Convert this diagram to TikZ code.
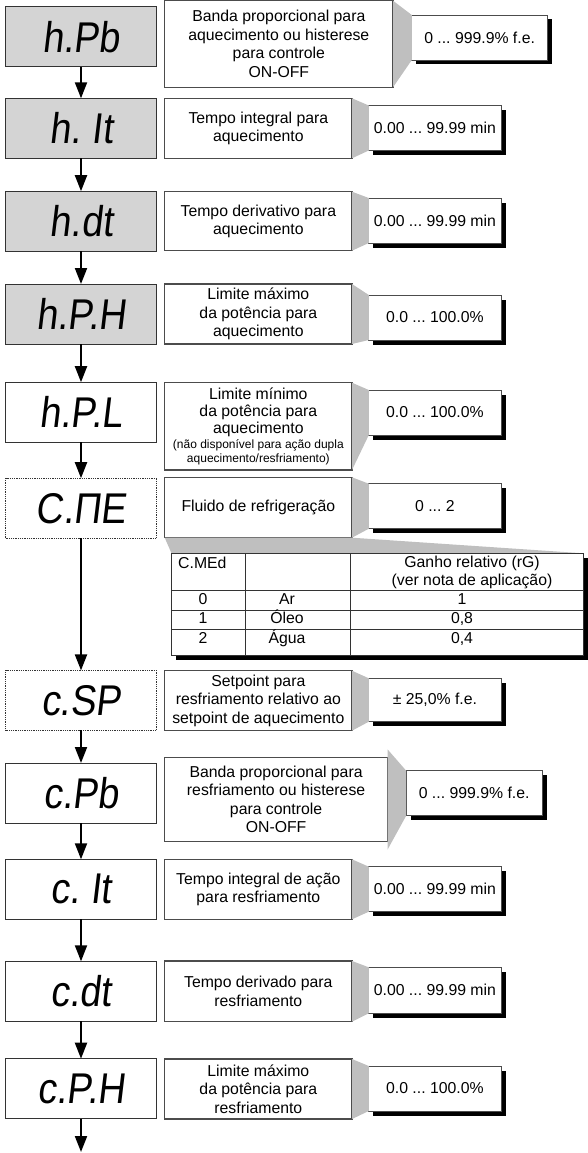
\documentclass[tikz,border=0pt]{standalone}
\usepackage{fontspec}
\setmainfont{Liberation Sans}
\newfontfamily\segfont[FakeStretch=0.88,FakeSlant=0.12]{Liberation Sans}
\usetikzlibrary{arrows.meta,shadows}
\newcommand{\smalltxt}{\fontsize{12}{11.8}\selectfont}
\frenchspacing
\begin{document}
\begin{tikzpicture}[x=1pt,y=-1pt,
 disp/.style={draw=black!80,line width=1pt,fill=black!17,minimum width=151pt,minimum height=60pt,inner sep=0pt,outer sep=0pt,font=\segfont\fontsize{43}{43}\selectfont},
 dispw/.style={disp,fill=white},
 dispd/.style={disp,fill=white,line width=0.8pt,dash pattern=on 1pt off 0.8pt},
 desc/.style={draw=black!70,line width=1.1pt,fill=white,minimum width=187.3pt,inner sep=0pt,outer sep=0pt,align=center,font=\fontsize{15.8}{18.5}\selectfont},
 val/.style={draw=black!70,line width=0.8pt,fill=white,minimum width=132.2pt,minimum height=45pt,inner sep=0pt,outer sep=0pt,font=\fontsize{15.8}{18.5}\selectfont,drop shadow={shadow xshift=4.5pt,shadow yshift=-4.5pt,fill=black,opacity=1}},
 wedge/.style={fill=black!25,draw=none},
 arr/.style={line width=2pt,-{Triangle[length=16pt,width=12pt]}},
 cell/.style={inner sep=0pt,font=\fontsize{15.8}{18.3}\selectfont,align=center,text height=11.5pt,text depth=3.5pt},
 tline/.style={draw=black!80,line width=0.9pt}
]
\useasboundingbox (0,0) rectangle (587,1153);

% ---------- display boxes ----------
\node[disp]  (d1)  at (81,37)     {h.Pb};
\node[disp]  (d2)  at (81,128.3)  {h. It};
\node[disp]  (d3)  at (81,221.2)  {h.dt};
\node[disp]  (d4)  at (81,314)    {h.P.H};
\node[dispw] (d5)  at (81,412.2)  {h.P.L};
\node[dispd] (d6)  at (81,508.2)  {C.ΠE};
\node[dispd] (d7)  at (81,700.4)  {c.SP};
\node[dispw] (d8)  at (81,793)    {c.Pb};
\node[dispw] (d9)  at (81,889.3)  {c. It};
\node[dispw] (d10) at (81,991.3)  {c.dt};
\node[dispw] (d11) at (81,1088.7) {c.P.H};
\coordinate (dend) at (81,1152);

% ---------- description boxes ----------
\node[desc,minimum width=228.3pt,minimum height=86.6pt] (t1) at (278.85,44) {Banda proporcional para\\aquecimento ou histerese\\para controle\\ON-OFF};
\node[desc,minimum height=60pt] (t2) at (258.35,128.3) {Tempo integral para\\aquecimento};
\node[desc,minimum height=59pt] (t3) at (258.35,221.2) {Tempo derivativo para\\aquecimento};
\node[desc,minimum height=60pt] (t4) at (258.35,314) {Limite máximo\\da potência para\\aquecimento};
\node[desc,minimum height=87.3pt,font=\fontsize{15.8}{17}\selectfont] (t5) at (258.35,426.35) {Limite mínimo\\da potência para\\aquecimento\\[-2pt]\smalltxt (não disponível para ação dupla\\[-3pt]\smalltxt aquecimento/resfriamento)};
\node[desc,minimum height=60.4pt] (t6) at (258.35,507.5) {Fluido de refrigeração};
\node[desc,minimum height=60pt] (t7) at (258.35,700.7) {Setpoint para\\resfriamento relativo ao\\setpoint de aquecimento};
\node[desc,minimum width=222.8pt,minimum height=84.4pt] (t8) at (276.1,799.5) {Banda proporcional para\\resfriamento ou histerese\\para controle\\ON-OFF};
\node[desc,minimum height=60pt] (t9) at (258.35,889.3) {Tempo integral de ação\\para resfriamento};
\node[desc,minimum height=60.7pt] (t10) at (258.35,991.3) {Tempo derivado para\\resfriamento};
\node[desc,minimum height=60pt] (t11) at (258.35,1089) {Limite máximo\\da potência para\\resfriamento};

% ---------- value boxes ----------
\node[val,minimum width=135.6pt] (v1) at (479.6,37.5) {0 ... 999.9\% f.e.};
\node[val] (v2) at (434.9,128) {0.00 ... 99.99 min};
\node[val] (v3) at (434.9,220.5) {0.00 ... 99.99 min};
\node[val] (v4) at (434.9,317.5) {0.0 ... 100.0\%};
\node[val] (v5) at (434.9,412.5) {0.0 ... 100.0\%};
\node[val] (v6) at (434.9,506.2) {0 ... 2};
\node[val,minimum height=43.4pt] (v7) at (434.9,700) {± 25,0\% f.e.};
\node[val,minimum width=135.9pt] (v8) at (474.15,793.2) {0 ... 999.9\% f.e.};
\node[val] (v9) at (434.9,889.2) {0.00 ... 99.99 min};
\node[val,minimum height=46pt] (v10) at (434.9,990.3) {0.00 ... 99.99 min};
\node[val] (v11) at (434.9,1088.5) {0.0 ... 100.0\%};

% ---------- gray wedges ----------
\foreach \i in {1,2,3,4,5,6,7,9,10,11}{
  \fill[wedge] (t\i.north east) -- (v\i.north west) -- (v\i.south west) -- (t\i.south east) -- cycle;
}
\fill[wedge] ([yshift=8pt]t8.north east) -- (v8.north west) -- (v8.south west) -- ([yshift=-8pt]t8.south east) -- cycle;

% ---------- table ----------
\node[draw=black!80,line width=0.9pt,fill=white,minimum width=411.8pt,minimum height=101.7pt,inner sep=0pt,outer sep=0pt,drop shadow={shadow xshift=4.5pt,shadow yshift=-4.5pt,fill=black,opacity=1}] (tab) at (377.4,604.15) {};
\fill[wedge] (t6.south west) -- (t6.south east) -- (tab.north east) -- (tab.north west) -- cycle;
\draw[tline] (tab.north west) rectangle (tab.south east);
\draw[tline] (245.2,553.3) -- (245.2,655);
\draw[tline] (350,553.3) -- (350,655);
\draw[tline] (171.5,590.7) -- (583.3,590.7);
\draw[tline] (171.5,610) -- (583.3,610);
\draw[tline] (171.5,629) -- (583.3,629);
\node[cell,anchor=west] (c0) at (178,564) {C.MEd};
\node[inner sep=0pt,font=\fontsize{15.8}{18.3}\selectfont,align=center] (c1) at (472,572.5) {Ganho relativo (rG)\\(ver nota de aplicação)};
\node[cell] (r1a) at (203,600.5) {0};
\node[cell] (r1b) at (287,600.5) {Ar};
\node[cell] (r1c) at (462,600.5) {1};
\node[cell] (r2a) at (203,619.5) {1};
\node[cell] (r2b) at (287,619.5) {Óleo};
\node[cell] (r2c) at (462,619.5) {0,8};
\node[cell] (r3a) at (203,639) {2};
\node[cell] (r3b) at (287,639) {Água};
\node[cell] (r3c) at (462,639) {0,4};

% ---------- arrows ----------
\draw[arr] (d1) -- (d2);
\draw[arr] (d2) -- (d3);
\draw[arr] (d3) -- (d4);
\draw[arr] (d4) -- (d5);
\draw[arr] (d5) -- (d6);
\draw[arr] (d6) -- (d7);
\draw[arr] (d7) -- (d8);
\draw[arr] (d8) -- (d9);
\draw[arr] (d9) -- (d10);
\draw[arr] (d10) -- (d11);
\draw[arr] (d11) -- (dend);
\end{tikzpicture}
\end{document}
